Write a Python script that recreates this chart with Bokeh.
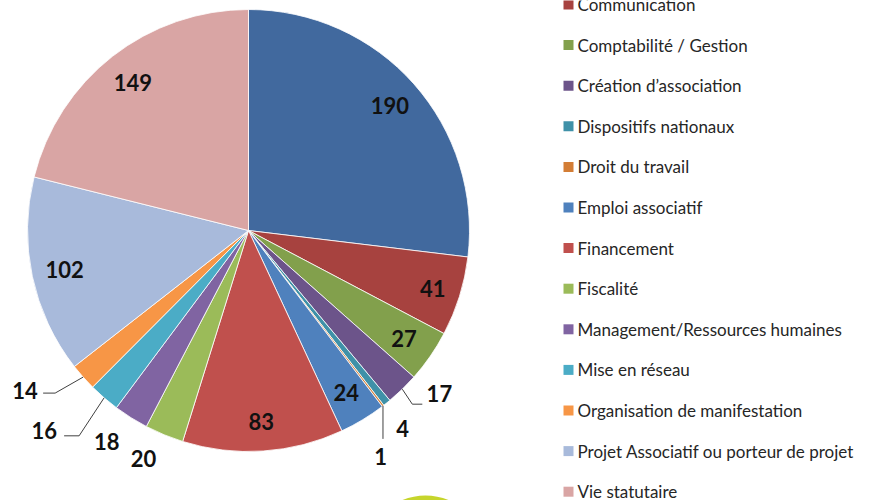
import numpy as np
from bokeh.plotting import figure
from bokeh.models import Range1d, ColumnDataSource
from bokeh.core.properties import value
from bokeh.embed import file_html
from bokeh.resources import INLINE

# ---------------- data ----------------
categories = [
    "Autres",
    "Communication",
    "Comptabilité / Gestion",
    "Création d’association",
    "Dispositifs nationaux",
    "Droit du travail",
    "Emploi associatif",
    "Financement",
    "Fiscalité",
    "Management/Ressources humaines",
    "Mise en réseau",
    "Organisation de manifestation",
    "Projet Associatif ou porteur de projet",
    "Vie statutaire",
]
counts = [190, 41, 27, 17, 4, 1, 24, 83, 20, 18, 16, 14, 102, 149]
colors = [
    "#41699e", "#a7423f", "#82a04c", "#6c548a", "#3f91a8", "#d37d35",
    "#4f81bd", "#c0504d", "#9bbb59", "#8064a2", "#4bacc6", "#f79646",
    "#a8badb", "#d9a5a4",
]

# ---------------- layout (screen px) ----------------
W, H = 872, 500
def sy(y):  # screen y -> data y
    return H - y

CX, CY, R = 248, sy(230), 221
# label radius and angular offset (deg) per slice
label_r = [189, 193, 189, 251, 251, 262, 189, 191, 251, 254, 286, 275, 188, 188]
label_da = [0, 0, 0, -5.4, 0.9, 7.2, 0, 0, 2.3, 1.8, 4.8, 5.9, 0, 0]
# leader line steps (dx, dy down) from slice edge
leaders = {
    3: [(10, 15), (10, 0)],
    5: [(0, 33)],
    10: [(-25, 38), (-15, 0)],
    11: [(-28, 16), (-12, 0)],
}

vals = np.array(counts, dtype=float)
total = vals.sum()
cum = np.cumsum(vals)
prev = cum - vals
start = np.pi / 2 - 2 * np.pi * prev / total
end = np.pi / 2 - 2 * np.pi * cum / total
mid_deg = (prev + vals / 2) / total * 360.0  # clockwise from top

p = figure(width=W, height=H, output_backend="svg", toolbar_location=None,
           x_range=Range1d(0, W), y_range=Range1d(0, H),
           x_axis_type=None, y_axis_type=None, min_border=0)
p.outline_line_color = None
p.background_fill_color = "white"
p.border_fill_color = "white"

# decorative circle at the bottom
p.circle(x=[425], y=[sy(556)], radius=61, fill_color="#c6d52c", line_color=None)

src = ColumnDataSource(dict(start=start, end=end, color=colors))
p.wedge(x=CX, y=CY, radius=R, start_angle="start", end_angle="end",
        direction="clock", fill_color="color", line_color="white",
        line_width=0.8, source=src)

# labels
ang = np.radians(mid_deg + np.array(label_da))
lx = CX + np.array(label_r) * np.sin(ang)
ly = CY + np.array(label_r) * np.cos(ang)
p.text(x=lx, y=ly, text=[str(c) for c in counts], text_font=value("Lato"),
       text_font_style="bold", text_font_size="22px", text_color="#111111",
       text_align="center", text_baseline="middle")

# leader lines
for i, steps in leaders.items():
    a = np.radians(mid_deg[i])
    xs = [CX + R * np.sin(a)]
    ys = [CY + R * np.cos(a)]
    for dx, dy in steps:
        xs.append(xs[-1] + dx)
        ys.append(ys[-1] - dy)
    p.line(xs, ys, line_color="#404040", line_width=1)

# legend (the first entry lies above the visible area, as in the original crop)
LEG_Y0, LEG_STEP = -36.6, 40.6
leg_idx = [i for i in range(len(categories)) if LEG_Y0 + i * LEG_STEP > -10]
leg_y = [sy(LEG_Y0 + i * LEG_STEP) for i in leg_idx]
p.rect(x=[568] * len(leg_idx), y=leg_y, width=10, height=10,
       fill_color=[colors[i] for i in leg_idx], line_color=None)
p.text(x=[577] * len(leg_idx), y=leg_y, text=[categories[i] for i in leg_idx],
       text_font=value("Lato"), text_font_size="17px", text_color="#262626",
       text_align="left", text_baseline="middle")

open("out.html", "w").write(file_html(p, INLINE))
